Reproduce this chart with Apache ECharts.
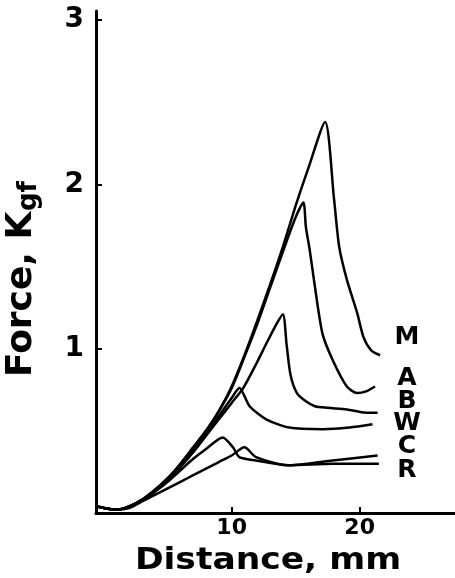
<!DOCTYPE html>
<html>
<head>
<meta charset="utf-8">
<script src="https://cdn.jsdelivr.net/npm/echarts@6/dist/echarts.min.js"></script>
<style>
html,body{margin:0;padding:0;background:#fff;}
#main{width:455px;height:578px;}
</style>
</head>
<body>
<div id="main"></div>
<script>
// curves: distance (mm) and force (Kgf)
var distM  = [-0.5,1,2,3,4,5,6,7,8,9,10,11,12,13,14,15,16,17.3,18.0,18.4,19.0,19.8,20.3,20.9,21.6];
var forceM = [0.04,0.02,0.04,0.08,0.14,0.21,0.30,0.40,0.50,0.62,0.77,0.96,1.17,1.39,1.62,1.87,2.10,2.38,1.91,1.62,1.42,1.22,1.07,0.99,0.96];

var distA  = [-0.5,1,2,3,4,5,6,7,8,9,10,11,12,13,14,15,15.6,15.8,16.1,16.5,17.1,17.9,19.0,19.8,20.5,21.2];
var forceA = [0.04,0.02,0.04,0.08,0.14,0.21,0.30,0.40,0.50,0.62,0.76,0.95,1.15,1.37,1.59,1.80,1.89,1.74,1.60,1.38,1.09,0.93,0.77,0.73,0.74,0.77];

var distB  = [-0.5,1,2,3,4,5,6,7,8,9,10,10.9,12,12.7,13.5,14.0,14.3,14.6,15.1,15.8,16.5,17.5,19,20.5,21.4];
var forceB = [0.04,0.02,0.04,0.08,0.13,0.20,0.28,0.37,0.47,0.57,0.67,0.76,0.92,1.03,1.15,1.21,1.02,0.84,0.73,0.68,0.65,0.64,0.63,0.61,0.61];

var distW  = [-0.5,1,2,3,4,5,6,7,8,9,10,10.6,11.4,12.7,14.5,17.1,19.2,21.0];
var forceW = [0.04,0.02,0.04,0.08,0.14,0.21,0.29,0.38,0.48,0.59,0.70,0.76,0.65,0.57,0.52,0.51,0.52,0.54];

var distC  = [-0.5,1,2,3,4,5,6,7,8,9.3,10.1,10.6,11.9,14.5,17.9,21.4];
var forceC = [0.04,0.02,0.04,0.08,0.13,0.19,0.26,0.33,0.39,0.46,0.40,0.34,0.32,0.29,0.32,0.35];

var distR  = [-0.5,1,2,3,4,5,6,7,8,9,10,11,11.9,14.5,17.9,21.5];
var forceR = [0.04,0.02,0.03,0.07,0.11,0.15,0.19,0.23,0.27,0.31,0.35,0.40,0.34,0.29,0.30,0.30];

var curveNames = ['M','A','B','W','C','R'];
var xTickValues = [10,20];
var yTickValues = [1,2,3];

function pairs(xs, ys){
    var out = [];
    for (var i = 0; i < xs.length; i++) out.push([xs[i], ys[i]]);
    return out;
}

var curves = [
    pairs(distM, forceM), pairs(distA, forceA), pairs(distB, forceB),
    pairs(distW, forceW), pairs(distC, forceC), pairs(distR, forceR)
];

var series = curves.map(function(d, i){
    return {
        name: curveNames[i],
        type: 'line',
        data: d,
        smooth: 0.25,
        showSymbol: false,
        lineStyle: { color: '#000', width: 2.5 }
    };
});

// label at the right end of each curve
var labelY = [337, 378, 401, 423, 446, 470];
var graphics = curveNames.map(function(n, i){
    return {
        type: 'text', x: 407, y: labelY[i],
        style: { text: n, font: 'bold 25px "DejaVu Sans"', fill: '#000', align: 'center', verticalAlign: 'middle' }
    };
});
// axis titles
graphics.push({
    type: 'text', x: 268, y: 561, scaleX: 1.15,
    style: { text: 'Distance, mm', font: 'bold 30px "DejaVu Sans"', fill: '#000', align: 'center', verticalAlign: 'middle' }
});
graphics.push({
    type: 'text', x: 22, y: 377, rotation: Math.PI / 2,
    style: { text: 'Force, K', font: 'bold 36px "DejaVu Sans"', fill: '#000', align: 'left', verticalAlign: 'middle' }
});
graphics.push({
    type: 'text', x: 29, y: 211, rotation: Math.PI / 2,
    style: { text: 'gf', font: 'bold 26px "DejaVu Sans"', fill: '#000', align: 'left', verticalAlign: 'middle' }
});

var myChart = echarts.init(document.getElementById('main'));
myChart.setOption({
    animation: false,
    backgroundColor: '#fff',
    grid: { left: 96, right: 0, top: 11, bottom: 65, containLabel: false, outerBoundsMode: 'none' },
    xAxis: {
        type: 'value',
        min: -0.6,
        max: 27.45,
        splitLine: { show: false },
        axisLine: { show: true, onZero: false, lineStyle: { color: '#000', width: 3 } },
        axisTick: { show: true, inside: true, length: 6, customValues: xTickValues, lineStyle: { color: '#000', width: 2 } },
        axisLabel: {
            customValues: xTickValues, margin: 4,
            color: '#000', fontFamily: 'DejaVu Sans', fontWeight: 'bold', fontSize: 22
        }
    },
    yAxis: {
        type: 'value',
        min: 0,
        max: 3.055,
        splitLine: { show: false },
        axisLine: { show: true, onZero: false, lineStyle: { color: '#000', width: 3 } },
        axisTick: { show: true, inside: true, length: 6, customValues: yTickValues, lineStyle: { color: '#000', width: 2 } },
        axisLabel: {
            customValues: yTickValues, margin: 12,
            color: '#000', fontFamily: 'DejaVu Sans', fontWeight: 'bold', fontSize: 28
        }
    },
    graphic: graphics,
    series: series
});
</script>
</body>
</html>
